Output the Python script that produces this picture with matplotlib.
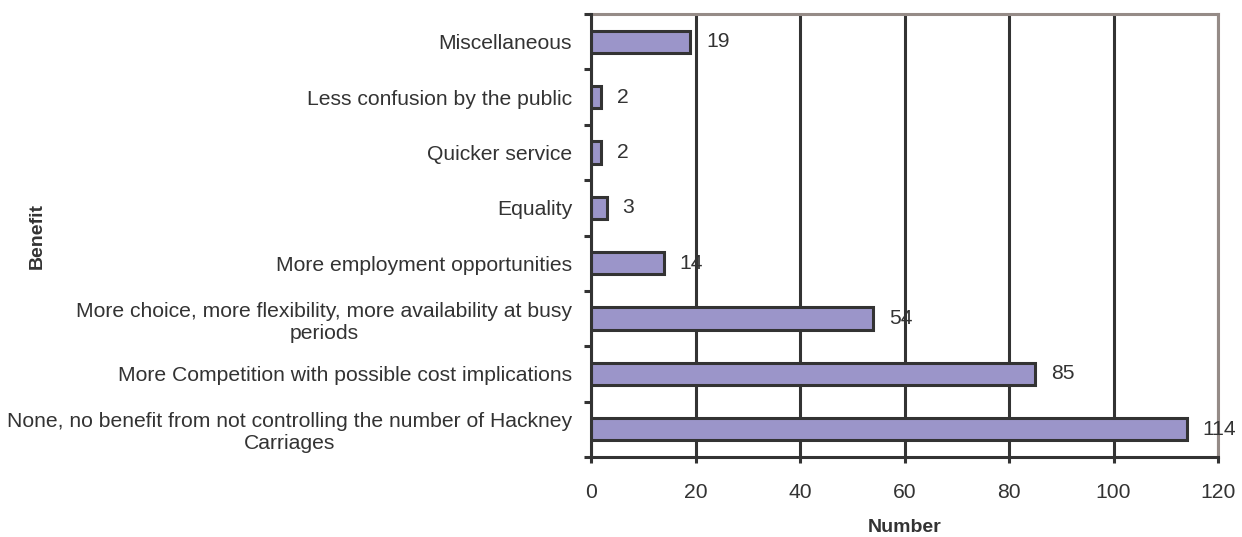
import matplotlib
matplotlib.use("Agg")
import matplotlib.pyplot as plt
import numpy as np

categories = [
    "Miscellaneous",
    "Less confusion by the public",
    "Quicker service",
    "Equality",
    "More employment opportunities",
    "More choice, more flexibility, more availability at busy\nperiods",
    "More Competition with possible cost implications",
    "None, no benefit from not controlling the number of Hackney\nCarriages",
]
values = [19, 2, 2, 3, 14, 54, 85, 114]
x_ticks = [0, 20, 40, 60, 80, 100, 120]

plt.rcParams['font.family'] = ['Liberation Sans', 'DejaVu Sans']
TXT = '#333333'
DARK = '#333333'
GREY = '#958B87'
BAR = '#9B95C9'
FS = 15.2

W, H = 1242, 537
fig = plt.figure(figsize=(W / 100, H / 100), dpi=100)
ax = fig.add_axes([591 / W, 1 - 457 / H, (1218 - 591) / W, (457 - 14) / H])

n = len(categories)
ypos = np.arange(n)
ax.barh(ypos, values, height=0.4, color=BAR, edgecolor=DARK, linewidth=2.2, zorder=3)
ax.set_ylim(n - 0.5, -0.5)
ax.set_xlim(0, 120)

for y, v in zip(ypos, values):
    ax.text(v + 3.0, y, str(v), va='center', ha='left', fontsize=FS, color=TXT, zorder=5, clip_on=False)

ax.set_xticks(x_ticks)
ax.set_xticklabels([str(t) for t in x_ticks])
ax.xaxis.grid(True, color=DARK, linewidth=2.2, zorder=1)
ax.set_axisbelow(True)

ax.set_yticks(ypos)
ax.set_yticklabels(categories, multialignment='center')
ax.set_yticks(np.arange(n + 1) - 0.5, minor=True)
ax.tick_params(axis='y', which='major', length=0, pad=13.5, labelsize=FS, labelcolor=TXT)
ax.tick_params(axis='y', which='minor', length=5, width=2.2, color=DARK, direction='out')
ax.tick_params(axis='x', which='major', length=4, width=2.2, color=DARK, pad=14.5, labelsize=FS, labelcolor=TXT)

for s in ['left', 'bottom']:
    ax.spines[s].set_color(DARK)
    ax.spines[s].set_linewidth(2.2)
for s in ['top', 'right']:
    ax.spines[s].set_color(GREY)
    ax.spines[s].set_linewidth(2.2)
ax.spines['left'].set_zorder(4)
ax.spines['bottom'].set_zorder(4)

fig.text(37 / W, 1 - 236 / H, "Benefit", rotation=90, ha='center', va='center',
         fontsize=14, fontweight='bold', color=TXT)
fig.text(905 / W, 1 - 527 / H, "Number", ha='center', va='center',
         fontsize=14, fontweight='bold', color=TXT)

fig.savefig("out.png", dpi=100, facecolor='white')
